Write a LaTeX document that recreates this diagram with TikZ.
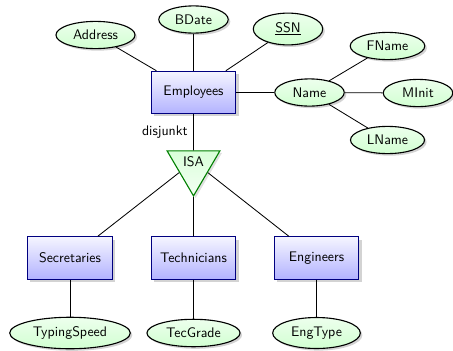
\documentclass[tikz,border=0pt]{standalone}
\usetikzlibrary{shapes.geometric,shadows}
\tikzset{
  entity/.style={rectangle, draw=blue!50!black, thick, top color=blue!4, bottom color=blue!30,
    minimum width=61pt, minimum height=30.5pt, font=\sffamily,
    drop shadow={opacity=0.35, shadow xshift=2pt, shadow yshift=-2pt}},
  attr/.style={ellipse, draw=black, thick, top color=green!7, bottom color=green!18,
    inner xsep=4pt, inner ysep=3.4pt, minimum width=50pt, font=\sffamily,
    drop shadow={opacity=0.35, shadow xshift=1.5pt, shadow yshift=-1.5pt}},
  isarel/.style={isosceles triangle, shape border rotate=-90, isosceles triangle apex angle=60,
    isosceles triangle stretches, minimum width=38pt, minimum height=32.4pt,
    draw=green!50!black, thick, top color=green!15, bottom color=green!4, inner sep=1pt, font=\sffamily,
    drop shadow={opacity=0.25, shadow xshift=1.5pt, shadow yshift=-1.5pt}},
  conn/.style={draw=black, semithick}
}
\begin{document}
\begin{tikzpicture}[x=0.72pt, y=-0.72pt]
\useasboundingbox (0,0) rectangle (453,350);
\node[entity] (emp) at (193.5,92.5) {Employees};
\node[attr] (addr) at (95.5,35) {Address};
\node[attr] (bdate) at (193.5,19.5) {BDate};
\node[attr] (ssn) at (288,29) {\underline{SSN}};
\node[attr] (name) at (309.5,92.5) {Name};
\node[attr] (fname) at (387.5,46) {FName};
\node[attr] (minit) at (418,93) {MInit};
\node[attr] (lname) at (387.5,140) {LName};
\node[isarel, anchor=apex] (isa) at (193.5,197) {ISA};
\node[font=\sffamily, anchor=east, inner sep=0pt] (disj) at (188,132) {disjunkt};
\node[entity] (sec) at (70,258) {Secretaries};
\node[entity] (tec) at (193.5,258) {Technicians};
\node[entity] (eng) at (316.5,258) {Engineers};
\node[attr] (typ) at (70,333) {TypingSpeed};
\node[attr] (tecg) at (193.5,333) {TecGrade};
\node[attr] (engt) at (316.5,333) {EngType};
\path[conn] (emp) -- (addr);
\path[conn] (emp) -- (bdate);
\path[conn] (emp) -- (ssn);
\path[conn] (emp) -- (name);
\path[conn] (name) -- (fname);
\path[conn] (name) -- (minit);
\path[conn] (name) -- (lname);
\path[conn] (emp) -- (isa);
\path[conn] (isa) -- (sec);
\path[conn] (isa) -- (tec);
\path[conn] (isa) -- (eng);
\path[conn] (sec) -- (typ);
\path[conn] (tec) -- (tecg);
\path[conn] (eng) -- (engt);
\end{tikzpicture}
\end{document}
